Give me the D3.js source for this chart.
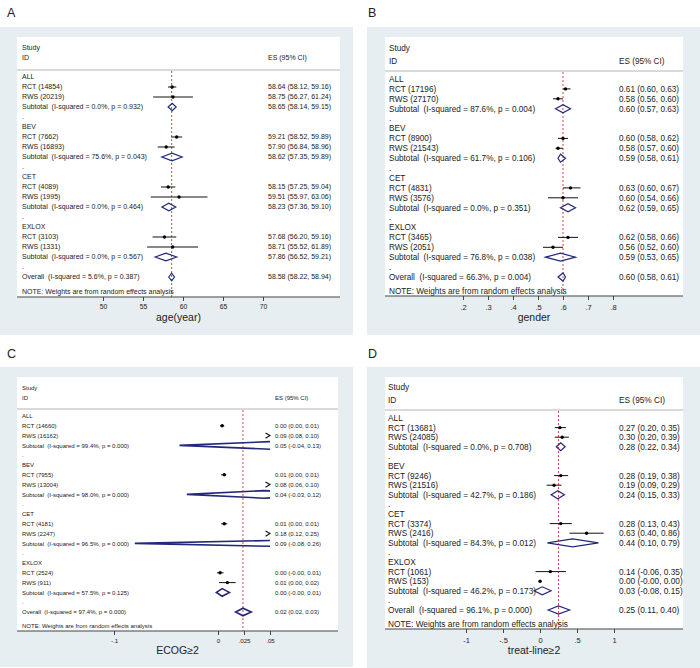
<!DOCTYPE html>
<html lang="en">
<head>
<meta charset="utf-8">
<title>Forest plots: RCT vs RWS</title>
<script src="https://d3js.org/d3.v7.min.js"></script>
<style>
  body { margin: 0; background: #fff; }
  svg text { font-family: "Liberation Sans", Arial, sans-serif; fill: #222; white-space: pre; }
</style>
</head>
<body>
<script>
// subgroups, same order in every panel
var groups = ["ALL", "BEV", "CET", "EXLOX"];

// A: age(year) -- triples are [ES, lower, upper], pairs of n are [RCT, RWS]
var ageN = [[14854, 20219], [7662, 16893], [4089, 1995], [3103, 1331]];
var ageRCT = [[58.64, 58.12, 59.16], [59.21, 58.52, 59.89], [58.15, 57.25, 59.04], [57.68, 56.20, 59.16]];
var ageRWS = [[58.75, 56.27, 61.24], [57.90, 56.84, 58.96], [59.51, 55.97, 63.06], [58.71, 55.52, 61.89]];
var ageSub = [[58.65, 58.14, 59.15], [58.62, 57.35, 59.89], [58.23, 57.36, 59.10], [57.86, 56.52, 59.21]];
var ageHet = [[0.0, 0.932], [75.6, 0.043], [0.0, 0.464], [0.0, 0.567]];
var ageAll = [58.58, 58.22, 58.94];
var ageAllHet = [5.6, 0.387];
var ageTicks = [50, 55, 60, 65, 70];

// B: gender
var genN = [[17196, 27170], [8900, 21543], [4831, 3576], [3465, 2051]];
var genRCT = [[0.61, 0.60, 0.63], [0.60, 0.58, 0.62], [0.63, 0.60, 0.67], [0.62, 0.58, 0.66]];
var genRWS = [[0.58, 0.56, 0.60], [0.58, 0.57, 0.60], [0.60, 0.54, 0.66], [0.56, 0.52, 0.60]];
var genSub = [[0.60, 0.57, 0.63], [0.59, 0.58, 0.61], [0.62, 0.59, 0.65], [0.59, 0.53, 0.65]];
var genHet = [[87.6, 0.004], [61.7, 0.106], [0.0, 0.351], [76.8, 0.038]];
var genAll = [0.60, 0.58, 0.61];
var genAllHet = [66.3, 0.004];
var genTicks = [0.2, 0.3, 0.4, 0.5, 0.6, 0.7, 0.8];

// C: ECOG>=2
var ecogN = [[14660, 16162], [7955, 13004], [4181, 2247], [2524, 911]];
var ecogRCT = [[0.004, 0.002, 0.006], [0.006, 0.003, 0.008], [0.006, 0.003, 0.009], [0.002, -0.001, 0.0053]];
var ecogRWS = [[0.09, 0.08, 0.10], [0.08, 0.06, 0.10], [0.18, 0.12, 0.25], [0.009, 0.001, 0.017]];
var ecogSub = [[0.05, -0.037, 0.13], [0.044, -0.03, 0.12], [0.09, -0.08, 0.26], [0.004, -0.0015, 0.011]];
var ecogHet = [[99.4, 0.000], [98.0, 0.000], [96.5, 0.000], [57.5, 0.125]];
var ecogAll = [0.024, 0.017, 0.032];
var ecogAllHet = [97.4, 0.000];
var ecogTicks = [-0.1, 0, 0.025, 0.05];

// D: treat-line>=2
var lineN = [[13681, 24085], [9246, 21516], [3374, 2416], [1061, 153]];
var lineRCT = [[0.27, 0.20, 0.35], [0.28, 0.19, 0.38], [0.28, 0.13, 0.43], [0.14, -0.06, 0.35]];
var lineRWS = [[0.30, 0.20, 0.39], [0.19, 0.09, 0.29], [0.63, 0.40, 0.86], [0.001, -0.001, 0.003]];
var lineSub = [[0.28, 0.22, 0.34], [0.24, 0.15, 0.33], [0.44, 0.10, 0.79], [0.03, -0.08, 0.15]];
var lineHet = [[0.0, 0.708], [42.7, 0.186], [84.3, 0.012], [46.2, 0.173]];
var lineAll = [0.25, 0.11, 0.40];
var lineAllHet = [96.1, 0.000];
var lineTicks = [-1, -0.5, 0, 0.5, 1];

var panels = [
  {id: "A", title: "age(year)", n: ageN, rct: ageRCT, rws: ageRWS, sub: ageSub, het: ageHet, all: ageAll, allHet: ageAllHet, ticks: ageTicks,
   box: [0, 27, 353, 308], plot: [17, 37, 340, 297], lab: [7, 17], textX: 22, esX: 268, fs: 7,
   head: [48, 58, 70], rows: [77, 277], note: 292, xr: [103, 263], tickFs: 6.8, tickPad: 3.6, titleY: 317, dh: 3.8, dw: 1.2},
  {id: "B", title: "gender", n: genN, rct: genRCT, rws: genRWS, sub: genSub, het: genHet, all: genAll, allHet: genAllHet, ticks: genTicks,
   box: [367, 27, 333, 308], plot: [385, 37, 683, 296], lab: [368, 17], textX: 389, esX: 619, fs: 8.2,
   head: [48, 61, 71], rows: [79, 277], note: 291, xr: [463, 613], tickFs: 7.5, tickPad: 4.4, titleY: 317, dh: 4, dw: 1.2},
  {id: "C", title: "ECOG≥2", n: ecogN, rct: ecogRCT, rws: ecogRWS, sub: ecogSub, het: ecogHet, all: ecogAll, allHet: ecogAllHet, ticks: ecogTicks,
   box: [0, 367, 353, 300], plot: [17, 377, 338, 631], lab: [7, 358], textX: 22, esX: 275, fs: 6,
   head: [387.5, 397.5, 409], rows: [416, 612], note: 626, xr: [114, 270], tickFs: 6.2, tickPad: 3.9, titleY: 650, dh: 3.8, dw: 1.6},
  {id: "D", title: "treat-line≥2", n: lineN, rct: lineRCT, rws: lineRWS, sub: lineSub, het: lineHet, all: lineAll, allHet: lineAllHet, ticks: lineTicks,
   box: [367, 367, 333, 301], plot: [385, 377, 683, 629], lab: [368, 358], textX: 388, esX: 619, fs: 8.3,
   head: [387.5, 400, 410], rows: [418, 610], note: 624, xr: [466, 614], tickFs: 7.5, tickPad: 4.4, titleY: 650, dh: 4, dw: 1.2}
];

var navy = "#22287a";
var red = "#cc3333";

function f2(v) { return v.toFixed(2); }
function esLabel(v) { return f2(v[0]) + " (" + f2(v[1]) + ", " + f2(v[2]) + ")"; }
function hetLabel(h) { return "(I-squared = " + h[0].toFixed(1) + "%, p = " + h[1].toFixed(3) + ")"; }
// stata style tick labels: .5 instead of 0.5
function tickFmt(v) { return String(+v.toFixed(4)).replace(/^(-?)0\./, "$1."); }

function buildRows(p) {
  var rows = [];
  groups.forEach(function(g, i) {
    rows.push({kind: "head", label: g});
    rows.push({kind: "study", label: "RCT (" + p.n[i][0] + ")", v: p.rct[i]});
    rows.push({kind: "study", label: "RWS (" + p.n[i][1] + ")", v: p.rws[i]});
    rows.push({kind: "sub", label: "Subtotal  " + hetLabel(p.het[i]), v: p.sub[i]});
    rows.push({kind: "gap", label: "."});
  });
  rows.push({kind: "sub", label: "Overall  " + hetLabel(p.allHet), v: p.all});
  return rows;
}

var svg = d3.select("body").append("svg")
  .attr("width", 700)
  .attr("height", 668);

panels.forEach(function(p, pi) {
  var rows = buildRows(p);
  var g = svg.append("g");

  g.append("rect")
    .attr("x", p.box[0]).attr("y", p.box[1])
    .attr("width", p.box[2]).attr("height", p.box[3])
    .attr("fill", "#e7eef1");
  g.append("rect")
    .attr("x", p.plot[0]).attr("y", p.plot[1])
    .attr("width", p.plot[2] - p.plot[0]).attr("height", p.plot[3] - p.plot[1])
    .attr("fill", "#fff");
  g.append("text")
    .attr("x", p.lab[0]).attr("y", p.lab[1])
    .attr("font-size", 12.5)
    .text(p.id);

  var x = d3.scaleLinear().domain(d3.extent(p.ticks)).range(p.xr);
  var y = d3.scaleLinear().domain([0, rows.length - 1]).range(p.rows);
  var xmin = x.range()[0], xmax = x.range()[1];

  // header
  g.append("text").attr("x", p.textX).attr("y", p.head[0]).attr("dy", "0.35em").attr("font-size", p.fs).text("Study");
  g.append("text").attr("x", p.textX).attr("y", p.head[1]).attr("dy", "0.35em").attr("font-size", p.fs).text("ID");
  g.append("text").attr("x", p.esX).attr("y", p.head[1]).attr("dy", "0.35em").attr("font-size", p.fs).text("ES (95% CI)");
  g.append("line")
    .attr("x1", p.plot[0]).attr("x2", p.plot[2])
    .attr("y1", p.head[2]).attr("y2", p.head[2])
    .attr("stroke", "#b4b4b4").attr("stroke-width", 1);

  // overall estimate line
  g.append("line")
    .attr("x1", x(p.all[0])).attr("x2", x(p.all[0]))
    .attr("y1", p.head[2] + 1).attr("y2", p.plot[3])
    .attr("stroke", red).attr("stroke-width", 0.9)
    .attr("stroke-dasharray", "2,2");

  // clip marks to the axis range
  var clipId = "clip" + pi;
  g.append("clipPath").attr("id", clipId)
    .append("rect")
    .attr("x", xmin).attr("y", p.plot[1])
    .attr("width", xmax - xmin).attr("height", p.plot[3] - p.plot[1]);
  var marks = g.append("g").attr("clip-path", "url(#" + clipId + ")");

  // row labels
  g.selectAll(".rowlab")
    .data(rows)
    .enter()
    .append("text")
    .attr("class", "rowlab")
    .attr("x", p.textX)
    .attr("y", function(d, i) { return y(i); })
    .attr("dy", "0.35em")
    .attr("font-size", p.fs)
    .text(function(d) { return d.label; });

  // ES column
  g.selectAll(".eslab")
    .data(rows.filter(function(d) { return d.v; }))
    .enter()
    .append("text")
    .attr("class", "eslab")
    .attr("x", p.esX)
    .attr("y", function(d) { return y(rows.indexOf(d)); })
    .attr("dy", "0.35em")
    .attr("font-size", p.fs)
    .text(function(d) { return esLabel(d.v); });

  // study estimates
  var studies = rows.filter(function(d) { return d.kind === "study"; });
  studies.forEach(function(d) {
    var yy = y(rows.indexOf(d));
    marks.append("line")
      .attr("x1", x(d.v[1])).attr("x2", x(d.v[2]))
      .attr("y1", yy).attr("y2", yy)
      .attr("stroke", "#111").attr("stroke-width", 1);
    if (x(d.v[0]) >= xmin && x(d.v[0]) <= xmax) {
      marks.append("circle")
        .attr("cx", x(d.v[0])).attr("cy", yy)
        .attr("r", 1.7).attr("fill", "#000");
    }
    if (x(d.v[2]) > xmax) {
      g.append("path")
        .attr("d", "M" + (xmax - 4.5) + "," + (yy - 2.6) + "L" + xmax + "," + yy + "L" + (xmax - 4.5) + "," + (yy + 2.6))
        .attr("fill", "none").attr("stroke", "#111").attr("stroke-width", 1.1);
    }
  });

  // pooled diamonds
  var subs = rows.filter(function(d) { return d.kind === "sub"; });
  marks.selectAll(".diamond")
    .data(subs)
    .enter()
    .append("path")
    .attr("class", "diamond")
    .attr("d", function(d) {
      var yy = y(rows.indexOf(d));
      return "M" + x(d.v[1]) + "," + yy +
        "L" + x(d.v[0]) + "," + (yy - p.dh) +
        "L" + x(d.v[2]) + "," + yy +
        "L" + x(d.v[0]) + "," + (yy + p.dh) + "Z";
    })
    .attr("fill", "none")
    .attr("stroke", navy)
    .attr("stroke-width", p.dw);

  g.append("text")
    .attr("x", p.textX).attr("y", p.note)
    .attr("dy", "0.35em")
    .attr("font-size", p.fs)
    .text("NOTE: Weights are from random effects analysis");

  // x axis
  g.append("line")
    .attr("x1", p.plot[0]).attr("x2", p.plot[2])
    .attr("y1", p.plot[3]).attr("y2", p.plot[3])
    .attr("stroke", "#444").attr("stroke-width", 1.2);
  var ax = g.append("g")
    .attr("transform", "translate(0," + p.plot[3] + ")")
    .call(d3.axisBottom(x).tickValues(p.ticks).tickSize(4).tickPadding(p.tickPad).tickFormat(tickFmt));
  ax.select(".domain").remove();
  ax.selectAll(".tick line").attr("stroke", "#444");
  ax.selectAll(".tick text")
    .attr("font-size", p.tickFs)
    .attr("font-family", "Liberation Sans, Arial, sans-serif")
    .attr("fill", "#222");

  g.append("text")
    .attr("x", (p.plot[0] + p.plot[2]) / 2)
    .attr("y", p.titleY)
    .attr("dy", "0.35em")
    .attr("text-anchor", "middle")
    .attr("font-size", 10.5)
    .text(p.title);
});
</script>
</body>
</html>
